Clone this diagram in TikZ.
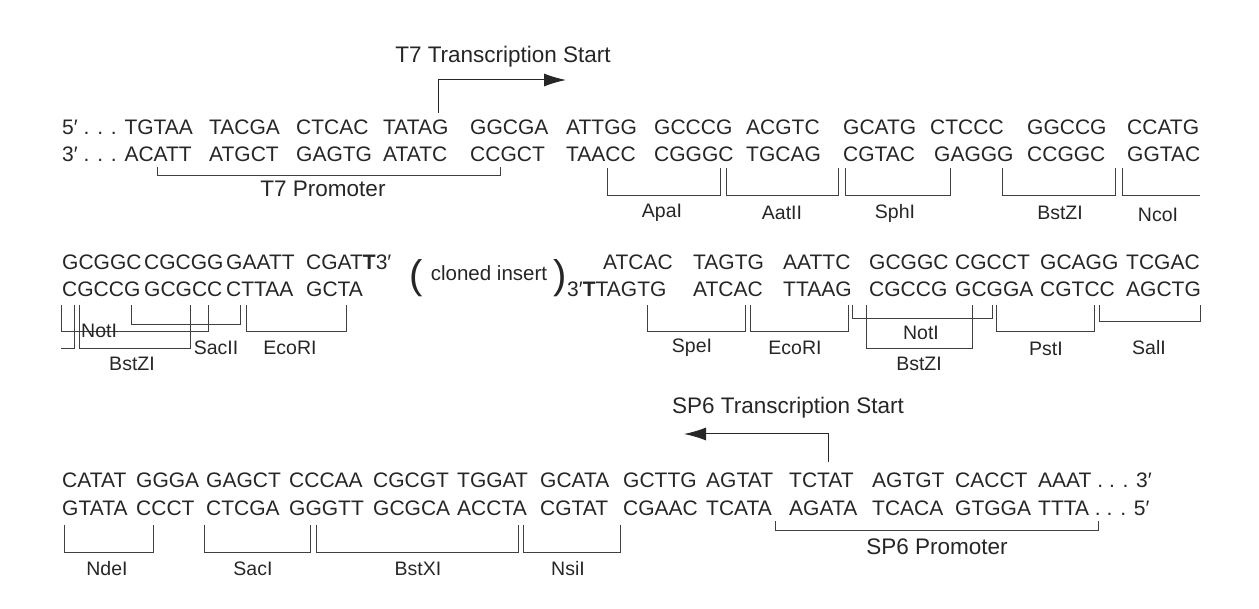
\documentclass[tikz,border=0pt]{standalone}
\usepackage{fontspec}
\setmainfont{Liberation Sans}
\usetikzlibrary{arrows.meta}
\begin{document}
\begin{tikzpicture}[x=1pt,y=-1pt,
  sq/.style={anchor=base west,inner sep=0pt,font=\fontsize{21}{24}\selectfont,text=black!85},
  lb/.style={anchor=center,inner sep=0pt,font=\fontsize{19.5}{22}\selectfont,text=black!85},
  bl/.style={anchor=center,inner sep=0pt,font=\fontsize{22.5}{25}\selectfont,text=black!85},
  br/.style={draw=black!75,line width=0.8pt},
  ar/.style={draw=black!85,line width=1pt,-{Latex[length=22pt,width=13pt]}}]
\useasboundingbox (0,0) rectangle (1259,609);
\newcommand\sqn[4]{\node[sq] (#1) at (#2,#3) {#4};}
% ---- row 1
\sqn{a1}{62}{135}{5′ . . . TGTAA}
\sqn{a2}{209}{135}{TACGA}\sqn{a3}{296}{135}{CTCAC}\sqn{a4}{383}{135}{TATAG}
\sqn{a5}{470}{135}{GGCGA}\sqn{a6}{566}{135}{ATTGG}\sqn{a7}{654}{135}{GCCCG}
\sqn{a8}{746}{135}{ACGTC}\sqn{a9}{843}{135}{GCATG}\sqn{a10}{930}{135}{CTCCC}
\sqn{a11}{1027}{135}{GGCCG}\sqn{a12}{1127}{135}{CCATG}
\sqn{b1}{62}{162}{3′ . . . ACATT}
\sqn{b2}{209}{162}{ATGCT}\sqn{b3}{296}{162}{GAGTG}\sqn{b4}{383}{162}{ATATC}
\sqn{b5}{470}{162}{CCGCT}\sqn{b6}{566}{162}{TAACC}\sqn{b7}{654}{162}{CGGGC}
\sqn{b8}{746}{162}{TGCAG}\sqn{b9}{843}{162}{CGTAC}\sqn{b10}{934}{162}{GAGGG}
\sqn{b11}{1027}{162}{CCGGC}\sqn{b12}{1127}{162}{GGTAC}
\coordinate (t7a) at (438,113);
\coordinate (t7b) at (566,80);
\draw[ar] (t7a) |- (t7b);
\node[bl] (t7s) at (503,57) {T7 Transcription Start};
\draw[br] (157,167) -- (157,175) -- (500,175) -- (500,167);
\node[bl] (t7p) at (323,189) {T7 Promoter};
\foreach \xa/\xb/\nm/\lx in {607/720/ApaI/662,726/838/AatII/782,845/950/SphI/895,1002/1115/BstZI/1060}
  {\draw[br] (\xa,168) -- (\xa,195) -- (\xb,195) -- (\xb,168);
   \node[lb] (r1\nm) at (\lx,213) {\nm};}
\draw[br] (1122,168) -- (1122,195) -- (1200,195);
\node[lb] (r1nco) at (1158,215) {NcoI};
% ---- row 2
\sqn{c1}{62}{270}{GCGGC}\sqn{c2}{144}{270}{CGCGG}\sqn{c3}{226}{270}{GAATT}
\sqn{c4}{306}{270}{CGAT\textbf{T}3′}
\sqn{d1}{62}{297}{CGCCG}\sqn{d2}{144}{297}{GCGCC}\sqn{d3}{226}{297}{CTTAA}
\sqn{d4}{306}{297}{GCTA}
\node[inner sep=0pt,font=\fontsize{40}{40}\selectfont,text=black!85] (lp) at (416,278) {(};
\node[inner sep=0pt,font=\fontsize{40}{40}\selectfont,text=black!85] (rp) at (560,278) {)};
\node[lb,font=\fontsize{20.5}{22}\selectfont] (ci) at (489,273) {cloned insert};
\sqn{e1}{603}{270}{ATCAC}\sqn{e2}{693}{270}{TAGTG}\sqn{e3}{783}{270}{AATTC}
\sqn{e4}{869}{270}{GCGGC}\sqn{e5}{955}{270}{CGCCT}\sqn{e6}{1040}{270}{GCAGG}
\sqn{e7}{1126}{270}{TCGAC}
\sqn{f1}{567}{297}{3′\textbf{T}TAGTG}\sqn{f2}{693}{297}{ATCAC}\sqn{f3}{783}{297}{TTAAG}
\sqn{f4}{869}{297}{CGCCG}\sqn{f5}{955}{297}{GCGGA}\sqn{f6}{1040}{297}{CGTCC}
\sqn{f7}{1126}{297}{AGCTG}
% left brackets
\draw[br] (61,305) -- (61,331) -- (208,331) -- (208,305);
\draw[br] (61,348) -- (74,348) -- (74,305);
\draw[br] (79,305) -- (79,348) -- (190,348) -- (190,305);
\draw[br] (131,305) -- (131,324) -- (240,324) -- (240,305);
\draw[br] (246,305) -- (246,331) -- (346,331) -- (346,305);
\node[lb,anchor=west] (lnot) at (81,331) {NotI};
\node[lb] (lsac) at (216,348) {SacII};
\node[lb] (lbst) at (132,364) {BstZI};
\node[lb] (leco) at (290,348) {EcoRI};
% right brackets
\draw[br] (647,305) -- (647,331) -- (745,331) -- (745,305);
\draw[br] (750,305) -- (750,331) -- (848,331) -- (848,305);
\draw[br] (852,305) -- (852,318) -- (992,318) -- (992,305);
\draw[br] (866,305) -- (866,348) -- (972,348) -- (972,305);
\draw[br] (996,305) -- (996,331) -- (1094,331) -- (1094,305);
\draw[br] (1099,305) -- (1099,321) -- (1200,321) -- (1200,305);
\node[lb] (rspe) at (692,348) {SpeI};
\node[lb] (reco) at (795,348) {EcoRI};
\node[lb] (rnot) at (921,333) {NotI};
\node[lb] (rbst) at (919,364) {BstZI};
\node[lb] (rpst) at (1046,349) {PstI};
\node[lb] (rsal) at (1149,348) {SalI};
% ---- row 3
\sqn{g1}{62}{488}{CATAT}\sqn{g2}{136}{488}{GGGA}\sqn{g3}{206}{488}{GAGCT}
\sqn{g4}{289}{488}{CCCAA}\sqn{g5}{373}{488}{CGCGT}\sqn{g6}{457}{488}{TGGAT}
\sqn{g7}{540}{488}{GCATA}\sqn{g8}{623}{488}{GCTTG}\sqn{g9}{706}{488}{AGTAT}
\sqn{g10}{789}{488}{TCTAT}\sqn{g11}{872}{488}{AGTGT}\sqn{g12}{955}{488}{CACCT}
\sqn{g13}{1038}{488}{AAAT . . . 3′}
\sqn{h1}{62}{515}{GTATA}\sqn{h2}{136}{515}{CCCT}\sqn{h3}{206}{515}{CTCGA}
\sqn{h4}{289}{515}{GGGTT}\sqn{h5}{373}{515}{GCGCA}\sqn{h6}{457}{515}{ACCTA}
\sqn{h7}{540}{515}{CGTAT}\sqn{h8}{623}{515}{CGAAC}\sqn{h9}{706}{515}{TCATA}
\sqn{h10}{789}{515}{AGATA}\sqn{h11}{872}{515}{TCACA}\sqn{h12}{955}{515}{GTGGA}
\sqn{h13}{1038}{515}{TTTA . . . 5′}
\coordinate (s6a) at (828,462);
\coordinate (s6b) at (684,434);
\draw[ar] (s6a) |- (s6b);
\node[bl] (s6s) at (788,408) {SP6 Transcription Start};
\draw[br] (775,521) -- (775,530) -- (1098,530) -- (1098,521);
\node[bl] (s6p) at (937,547) {SP6 Promoter};
\foreach \xa/\xb/\nm/\lx in {64/153/NdeI/107,204/310/SacI/253,316/518/BstXI/418,523/620/NsiI/568}
  {\draw[br] (\xa,525) -- (\xa,552) -- (\xb,552) -- (\xb,525);
   \node[lb] (r3\nm) at (\lx,569) {\nm};}
\end{tikzpicture}
\end{document}
